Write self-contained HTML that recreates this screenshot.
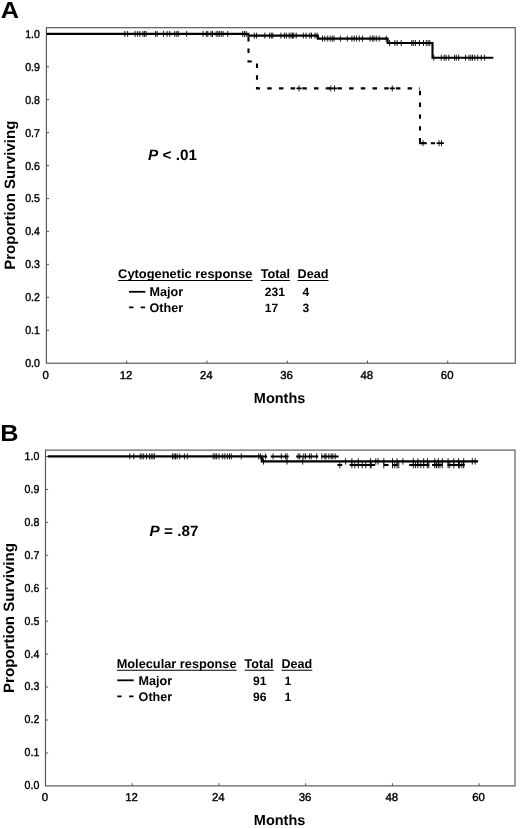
<!DOCTYPE html>
<html lang="en"><head><meta charset="utf-8"><title>Survival by response</title>
<style>html,body{margin:0;padding:0;background:#fff}svg{display:block}text{text-rendering:geometricPrecision;font-family:"Liberation Sans", Arial, Helvetica, sans-serif;font-weight:bold;fill:#000}</style></head><body>
<svg width="520" height="828" viewBox="0 0 520 828">
<rect x="0" y="0" width="520" height="828" fill="#fff"/>
<text transform="translate(0.8,17.6) scale(1.09,1)" font-size="23.2">A</text>
<rect x="46.4" y="27.7" width="468.9" height="335.5" fill="none" stroke="#555" stroke-width="1.15"/>
<text transform="translate(39.9,367.16) scale(0.93,1)" font-size="11.4" style="font-weight:normal;stroke:#000;stroke-width:0.4px" text-anchor="end">0.0</text>
<line x1="46.4" y1="330.22" x2="49.0" y2="330.22" stroke="#555" stroke-width="1"/>
<text transform="translate(39.9,334.22) scale(0.93,1)" font-size="11.4" style="font-weight:normal;stroke:#000;stroke-width:0.4px" text-anchor="end">0.1</text>
<line x1="46.4" y1="297.29" x2="49.0" y2="297.29" stroke="#555" stroke-width="1"/>
<text transform="translate(39.9,301.29) scale(0.93,1)" font-size="11.4" style="font-weight:normal;stroke:#000;stroke-width:0.4px" text-anchor="end">0.2</text>
<line x1="46.4" y1="264.35" x2="49.0" y2="264.35" stroke="#555" stroke-width="1"/>
<text transform="translate(39.9,268.35) scale(0.93,1)" font-size="11.4" style="font-weight:normal;stroke:#000;stroke-width:0.4px" text-anchor="end">0.3</text>
<line x1="46.4" y1="231.42" x2="49.0" y2="231.42" stroke="#555" stroke-width="1"/>
<text transform="translate(39.9,235.42) scale(0.93,1)" font-size="11.4" style="font-weight:normal;stroke:#000;stroke-width:0.4px" text-anchor="end">0.4</text>
<line x1="46.4" y1="198.48" x2="49.0" y2="198.48" stroke="#555" stroke-width="1"/>
<text transform="translate(39.9,202.48) scale(0.93,1)" font-size="11.4" style="font-weight:normal;stroke:#000;stroke-width:0.4px" text-anchor="end">0.5</text>
<line x1="46.4" y1="165.54" x2="49.0" y2="165.54" stroke="#555" stroke-width="1"/>
<text transform="translate(39.9,169.54) scale(0.93,1)" font-size="11.4" style="font-weight:normal;stroke:#000;stroke-width:0.4px" text-anchor="end">0.6</text>
<line x1="46.4" y1="132.61" x2="49.0" y2="132.61" stroke="#555" stroke-width="1"/>
<text transform="translate(39.9,136.61) scale(0.93,1)" font-size="11.4" style="font-weight:normal;stroke:#000;stroke-width:0.4px" text-anchor="end">0.7</text>
<line x1="46.4" y1="99.67" x2="49.0" y2="99.67" stroke="#555" stroke-width="1"/>
<text transform="translate(39.9,103.67) scale(0.93,1)" font-size="11.4" style="font-weight:normal;stroke:#000;stroke-width:0.4px" text-anchor="end">0.8</text>
<line x1="46.4" y1="66.74" x2="49.0" y2="66.74" stroke="#555" stroke-width="1"/>
<text transform="translate(39.9,70.74) scale(0.93,1)" font-size="11.4" style="font-weight:normal;stroke:#000;stroke-width:0.4px" text-anchor="end">0.9</text>
<line x1="46.4" y1="33.80" x2="49.0" y2="33.80" stroke="#555" stroke-width="1"/>
<text transform="translate(39.9,37.80) scale(0.93,1)" font-size="11.4" style="font-weight:normal;stroke:#000;stroke-width:0.4px" text-anchor="end">1.0</text>
<text x="45.75" y="378.6" font-size="11.4" style="font-weight:normal;stroke:#000;stroke-width:0.4px" text-anchor="middle">0</text>
<line x1="126.63" y1="363.2" x2="126.63" y2="360.6" stroke="#555" stroke-width="1"/>
<text x="126.03" y="378.6" font-size="11.4" style="font-weight:normal;stroke:#000;stroke-width:0.4px" text-anchor="middle">12</text>
<line x1="206.91" y1="363.2" x2="206.91" y2="360.6" stroke="#555" stroke-width="1"/>
<text x="206.31" y="378.6" font-size="11.4" style="font-weight:normal;stroke:#000;stroke-width:0.4px" text-anchor="middle">24</text>
<line x1="287.19" y1="363.2" x2="287.19" y2="360.6" stroke="#555" stroke-width="1"/>
<text x="286.59" y="378.6" font-size="11.4" style="font-weight:normal;stroke:#000;stroke-width:0.4px" text-anchor="middle">36</text>
<line x1="367.47" y1="363.2" x2="367.47" y2="360.6" stroke="#555" stroke-width="1"/>
<text x="366.87" y="378.6" font-size="11.4" style="font-weight:normal;stroke:#000;stroke-width:0.4px" text-anchor="middle">48</text>
<line x1="447.75" y1="363.2" x2="447.75" y2="360.6" stroke="#555" stroke-width="1"/>
<text x="447.15" y="378.6" font-size="11.4" style="font-weight:normal;stroke:#000;stroke-width:0.4px" text-anchor="middle">60</text>
<text x="279.6" y="402.7" font-size="14.5" text-anchor="middle" textLength="51.6" lengthAdjust="spacingAndGlyphs">Months</text>
<text transform="translate(15.0,269.7) rotate(-90)" font-size="15" textLength="149.0" lengthAdjust="spacingAndGlyphs">Proportion Surviving</text>
<path d="M46.5 33.9H248.3V35.6H317.9V38.6H387.6V43.0H432.5V57.7H493.3" stroke="#000" stroke-width="2.1" fill="none"/>
<path d="M124.8 30.9V36.9M127.6 30.9V36.9M135.1 30.9V36.9M137.6 30.9V36.9M139.9 30.9V36.9M143.0 30.9V36.9M144.5 30.9V36.9M146.1 30.9V36.9M155.6 30.9V36.9M157.2 30.9V36.9M163.6 30.9V36.9M167.1 30.9V36.9M169.8 30.9V36.9M174.8 30.9V36.9M176.8 30.9V36.9M178.3 30.9V36.9M186.7 30.9V36.9" stroke="#000" stroke-width="0.9" fill="none"/>
<path d="M203.0 30.9V36.9M206.4 30.9V36.9M207.8 30.9V36.9M211.0 30.9V36.9M212.5 30.9V36.9M216.2 30.9V36.9M217.9 30.9V36.9M219.4 30.9V36.9M221.3 30.9V36.9M223.1 30.9V36.9M227.7 30.9V36.9M242.7 30.9V36.9M244.4 30.9V36.9M246.2 30.9V36.9" stroke="#000" stroke-width="0.9" fill="none"/>
<path d="M254.3 32.6V38.6M256.6 32.6V38.6M264.8 32.6V38.6M269.6 32.6V38.6M271.3 32.6V38.6M272.8 32.6V38.6M280.9 32.6V38.6M284.4 32.6V38.6M286.3 32.6V38.6M289.2 32.6V38.6M291.0 32.6V38.6M292.5 32.6V38.6M293.8 32.6V38.6M296.2 32.6V38.6M303.3 32.6V38.6M306.0 32.6V38.6M309.8 32.6V38.6M311.5 32.6V38.6M315.0 32.6V38.6M317.0 32.6V38.6" stroke="#000" stroke-width="0.9" fill="none"/>
<path d="M322.5 35.6V41.6M324.8 35.6V41.6M327.7 35.6V41.6M330.2 35.6V41.6M332.3 35.6V41.6M334.0 35.6V41.6M340.4 35.6V41.6M347.3 35.6V41.6M351.9 35.6V41.6M354.2 35.6V41.6M356.6 35.6V41.6M359.4 35.6V41.6M362.5 35.6V41.6M370.0 35.6V41.6M372.3 35.6V41.6M374.0 35.6V41.6M376.3 35.6V41.6M379.2 35.6V41.6M386.2 35.6V41.6" stroke="#000" stroke-width="0.9" fill="none"/>
<path d="M389.6 40.0V46.0M394.8 40.0V46.0M397.1 40.0V46.0M401.2 40.0V46.0M411.8 40.0V46.0M413.3 40.0V46.0M415.4 40.0V46.0M419.4 40.0V46.0M423.5 40.0V46.0M426.3 40.0V46.0M428.1 40.0V46.0M429.8 40.0V46.0" stroke="#000" stroke-width="0.9" fill="none"/>
<path d="M433.8 54.7V60.7M441.3 54.7V60.7M444.2 54.7V60.7M446.0 54.7V60.7M448.8 54.7V60.7M454.6 54.7V60.7M456.3 54.7V60.7M458.7 54.7V60.7M465.6 54.7V60.7M469.0 54.7V60.7M470.8 54.7V60.7M472.5 54.7V60.7M474.8 54.7V60.7M477.7 54.7V60.7M481.2 54.7V60.7M484.6 54.7V60.7" stroke="#000" stroke-width="0.9" fill="none"/>
<path d="M248.5 33.9V61.5H257V88.4H420" stroke="#000" stroke-width="2.1" fill="none" stroke-dasharray="4.5 7.2" stroke-dashoffset="-3"/>
<path d="M420 88.4V143.2" stroke="#000" stroke-width="2.1" fill="none" stroke-dasharray="4.4 7.4" stroke-dashoffset="-2.4"/>
<path d="M419 143.2H426.8M430.8 143.2H435" stroke="#000" stroke-width="2.1" fill="none"/>
<path d="M299.0 85.4V91.4M296.6 88.4H301.4M330.8 85.4V91.4M328.4 88.4H333.2M334.5 85.4V91.4M332.1 88.4H336.9M392.3 85.4V91.4M389.9 88.4H394.7" stroke="#000" stroke-width="0.9" fill="none"/>
<path d="M296.6 88.4H301.4M328.4 88.4H333.2M332.1 88.4H336.9M389.9 88.4H394.7" stroke="#000" stroke-width="1.6" fill="none"/>
<path d="M423.0 140.2V146.2M420.6 143.2H425.4M439.0 140.2V146.2M436.6 143.2H441.4M441.5 140.2V146.2M439.1 143.2H443.9" stroke="#000" stroke-width="0.9" fill="none"/>
<path d="M420.6 143.2H425.4M436.6 143.2H441.4M439.1 143.2H443.9" stroke="#000" stroke-width="1.6" fill="none"/>
<text x="148" y="160.3" font-size="15" textLength="49" lengthAdjust="spacingAndGlyphs"><tspan font-style="italic">P</tspan> &lt; .01</text>
<text x="118.1" y="278.3" font-size="12.6" textLength="134.4" lengthAdjust="spacingAndGlyphs">Cytogenetic response</text>
<text x="260.7" y="278.3" font-size="12.6" textLength="29.3" lengthAdjust="spacingAndGlyphs">Total</text>
<text x="297.6" y="278.3" font-size="12.6" textLength="30.9" lengthAdjust="spacingAndGlyphs">Dead</text>
<path d="M118.1 280.5H252.5M260.7 280.5H290.0M297.6 280.5H328.5" stroke="#000" stroke-width="1.1" fill="none"/>
<path d="M129.0 291.8H145.3" stroke="#000" stroke-width="1.8" fill="none"/>
<path d="M129.0 307.3h4.4M140.7 307.3h4.4" stroke="#000" stroke-width="1.8" fill="none"/>
<text x="149.5" y="295.8" font-size="12.6">Major</text>
<text x="149.5" y="311.6" font-size="12.6">Other</text>
<text x="264.8" y="295.8" font-size="12.1">231</text>
<text x="264.8" y="311.6" font-size="12.1">17</text>
<text x="302.6" y="295.8" font-size="12.1">4</text>
<text x="302.6" y="311.6" font-size="12.1">3</text>
<text transform="translate(0.2,441.2) scale(1.09,1)" font-size="23.2">B</text>
<rect x="45.5" y="450.1" width="469.5" height="335.8" fill="none" stroke="#555" stroke-width="1.15"/>
<text transform="translate(39.3,789.27) scale(0.93,1)" font-size="11.4" style="font-weight:normal;stroke:#000;stroke-width:0.4px" text-anchor="end">0.0</text>
<line x1="45.5" y1="752.93" x2="48.1" y2="752.93" stroke="#555" stroke-width="1"/>
<text transform="translate(39.3,756.33) scale(0.93,1)" font-size="11.4" style="font-weight:normal;stroke:#000;stroke-width:0.4px" text-anchor="end">0.1</text>
<line x1="45.5" y1="720.00" x2="48.1" y2="720.00" stroke="#555" stroke-width="1"/>
<text transform="translate(39.3,723.40) scale(0.93,1)" font-size="11.4" style="font-weight:normal;stroke:#000;stroke-width:0.4px" text-anchor="end">0.2</text>
<line x1="45.5" y1="687.06" x2="48.1" y2="687.06" stroke="#555" stroke-width="1"/>
<text transform="translate(39.3,690.46) scale(0.93,1)" font-size="11.4" style="font-weight:normal;stroke:#000;stroke-width:0.4px" text-anchor="end">0.3</text>
<line x1="45.5" y1="654.13" x2="48.1" y2="654.13" stroke="#555" stroke-width="1"/>
<text transform="translate(39.3,657.53) scale(0.93,1)" font-size="11.4" style="font-weight:normal;stroke:#000;stroke-width:0.4px" text-anchor="end">0.4</text>
<line x1="45.5" y1="621.19" x2="48.1" y2="621.19" stroke="#555" stroke-width="1"/>
<text transform="translate(39.3,624.59) scale(0.93,1)" font-size="11.4" style="font-weight:normal;stroke:#000;stroke-width:0.4px" text-anchor="end">0.5</text>
<line x1="45.5" y1="588.25" x2="48.1" y2="588.25" stroke="#555" stroke-width="1"/>
<text transform="translate(39.3,591.65) scale(0.93,1)" font-size="11.4" style="font-weight:normal;stroke:#000;stroke-width:0.4px" text-anchor="end">0.6</text>
<line x1="45.5" y1="555.32" x2="48.1" y2="555.32" stroke="#555" stroke-width="1"/>
<text transform="translate(39.3,558.72) scale(0.93,1)" font-size="11.4" style="font-weight:normal;stroke:#000;stroke-width:0.4px" text-anchor="end">0.7</text>
<line x1="45.5" y1="522.38" x2="48.1" y2="522.38" stroke="#555" stroke-width="1"/>
<text transform="translate(39.3,525.78) scale(0.93,1)" font-size="11.4" style="font-weight:normal;stroke:#000;stroke-width:0.4px" text-anchor="end">0.8</text>
<line x1="45.5" y1="489.45" x2="48.1" y2="489.45" stroke="#555" stroke-width="1"/>
<text transform="translate(39.3,492.85) scale(0.93,1)" font-size="11.4" style="font-weight:normal;stroke:#000;stroke-width:0.4px" text-anchor="end">0.9</text>
<line x1="45.5" y1="456.51" x2="48.1" y2="456.51" stroke="#555" stroke-width="1"/>
<text transform="translate(39.3,459.91) scale(0.93,1)" font-size="11.4" style="font-weight:normal;stroke:#000;stroke-width:0.4px" text-anchor="end">1.0</text>
<text x="44.90" y="801.3" font-size="11.4" style="font-weight:normal;stroke:#000;stroke-width:0.4px" text-anchor="middle">0</text>
<line x1="132.22" y1="785.9" x2="132.22" y2="783.2" stroke="#555" stroke-width="1"/>
<text x="131.62" y="801.3" font-size="11.4" style="font-weight:normal;stroke:#000;stroke-width:0.4px" text-anchor="middle">12</text>
<line x1="218.94" y1="785.9" x2="218.94" y2="783.2" stroke="#555" stroke-width="1"/>
<text x="218.34" y="801.3" font-size="11.4" style="font-weight:normal;stroke:#000;stroke-width:0.4px" text-anchor="middle">24</text>
<line x1="305.66" y1="785.9" x2="305.66" y2="783.2" stroke="#555" stroke-width="1"/>
<text x="305.06" y="801.3" font-size="11.4" style="font-weight:normal;stroke:#000;stroke-width:0.4px" text-anchor="middle">36</text>
<line x1="392.38" y1="785.9" x2="392.38" y2="783.2" stroke="#555" stroke-width="1"/>
<text x="391.78" y="801.3" font-size="11.4" style="font-weight:normal;stroke:#000;stroke-width:0.4px" text-anchor="middle">48</text>
<line x1="479.10" y1="785.9" x2="479.10" y2="783.2" stroke="#555" stroke-width="1"/>
<text x="478.50" y="801.3" font-size="11.4" style="font-weight:normal;stroke:#000;stroke-width:0.4px" text-anchor="middle">60</text>
<text x="279.6" y="824.8" font-size="14.5" text-anchor="middle" textLength="51.6" lengthAdjust="spacingAndGlyphs">Months</text>
<text transform="translate(13.6,693.0) rotate(-90)" font-size="15" textLength="150.0" lengthAdjust="spacingAndGlyphs">Proportion Surviving</text>
<path d="M47.8 456.4H261.8V461.4H478.1" stroke="#000" stroke-width="2.1" fill="none"/>
<path d="M129.8 453.4V459.4M133.8 453.4V459.4M140.2 453.4V459.4M141.9 453.4V459.4M143.7 453.4V459.4M146.5 453.4V459.4M149.4 453.4V459.4M151.2 453.4V459.4M152.9 453.4V459.4M154.4 453.4V459.4M172.5 453.4V459.4M174.1 453.4V459.4M175.5 453.4V459.4M177.2 453.4V459.4M179.8 453.4V459.4M184.4 453.4V459.4M187.3 453.4V459.4M213.3 453.4V459.4M215.0 453.4V459.4M216.7 453.4V459.4M219.0 453.4V459.4M222.7 453.4V459.4M224.8 453.4V459.4M227.3 453.4V459.4M229.5 453.4V459.4M231.3 453.4V459.4M241.3 453.4V459.4M258.7 453.4V459.4M260.4 453.4V459.4" stroke="#000" stroke-width="0.9" fill="none"/>
<path d="M262.3 456.4H267.2M270.6 456.4H288.7M296.2 456.4H318.3M321.0 456.4H338.6M337.4 465.1H342.2M349.6 465.1H375.2M383.8 465.1H388.5M392.0 465.1H397.8M409.2 465.1H429.2M432.0 465.1H442.4M447.5 465.1H464.8" stroke="#000" stroke-width="2" fill="none"/>
<path d="M265.6 453.4V459.4M273.1 453.4V459.4M281.3 453.4V459.4M285.4 453.4V459.4M287.1 453.4V459.4M298.1 453.4V459.4M299.8 453.4V459.4M303.8 453.4V459.4M305.6 453.4V459.4M309.6 453.4V459.4M311.3 453.4V459.4M316.6 453.4V459.4M321.9 453.4V459.4M324.8 453.4V459.4M326.0 453.4V459.4M328.8 453.4V459.4M331.2 453.4V459.4M332.9 453.4V459.4M335.2 453.4V459.4" stroke="#000" stroke-width="0.9" fill="none"/>
<path d="M339.8 461.9V468.3M351.9 461.9V468.3M354.8 461.9V468.3M358.3 461.9V468.3M362.3 461.9V468.3M365.8 461.9V468.3M370.4 461.9V468.3M371.2 461.9V468.3M383.8 461.9V468.3M392.5 461.9V468.3M394.8 461.9V468.3M397.1 461.9V468.3M398.8 461.9V468.3M413.3 461.9V468.3M415.6 461.9V468.3M417.9 461.9V468.3M420.8 461.9V468.3M423.7 461.9V468.3M427.3 461.9V468.3M428.8 461.9V468.3M434.8 461.9V468.3M436.5 461.9V468.3M438.3 461.9V468.3M440.0 461.9V468.3M442.3 461.9V468.3M448.1 461.9V468.3M449.8 461.9V468.3M453.8 461.9V468.3M458.5 461.9V468.3M459.6 461.9V468.3M461.9 461.9V468.3M463.7 461.9V468.3" stroke="#000" stroke-width="0.9" fill="none"/>
<path d="M263.5 458.2V464.6M287.0 458.2V464.6M302.7 458.2V464.6M345.6 458.2V464.6M351.9 458.2V464.6M358.3 458.2V464.6M370.4 458.2V464.6M375.8 458.2V464.6M378.1 458.2V464.6M383.8 458.2V464.6M392.5 458.2V464.6M397.1 458.2V464.6M402.9 458.2V464.6M413.3 458.2V464.6M417.9 458.2V464.6M423.7 458.2V464.6M427.5 458.2V464.6M434.8 458.2V464.6M438.3 458.2V464.6M442.3 458.2V464.6M448.1 458.2V464.6M453.8 458.2V464.6M458.5 458.2V464.6M463.7 458.2V464.6M472.3 458.2V464.6M475.2 458.2V464.6" stroke="#000" stroke-width="0.9" fill="none"/>
<text x="149.6" y="535.7" font-size="15" textLength="48.8" lengthAdjust="spacingAndGlyphs"><tspan font-style="italic">P</tspan> = .87</text>
<text x="116.7" y="668.0" font-size="12.6" textLength="119.9" lengthAdjust="spacingAndGlyphs">Molecular response</text>
<text x="244.6" y="668.0" font-size="12.6" textLength="29.0" lengthAdjust="spacingAndGlyphs">Total</text>
<text x="281.5" y="668.0" font-size="12.6" textLength="30.8" lengthAdjust="spacingAndGlyphs">Dead</text>
<path d="M116.7 670.2H236.6M244.6 670.2H273.6M281.5 670.2H312.3" stroke="#000" stroke-width="1.1" fill="none"/>
<path d="M117.2 680.3H133.7" stroke="#000" stroke-width="1.8" fill="none"/>
<path d="M117.2 696.3h4.4M129.1 696.3h4.4" stroke="#000" stroke-width="1.8" fill="none"/>
<text x="138.6" y="685.3" font-size="12.6">Major</text>
<text x="138.6" y="701.0" font-size="12.6">Other</text>
<text x="253.0" y="685.3" font-size="12.1">91</text>
<text x="253.0" y="701.0" font-size="12.1">96</text>
<text x="284.4" y="685.3" font-size="12.1">1</text>
<text x="284.4" y="701.0" font-size="12.1">1</text>
</svg></body></html>
